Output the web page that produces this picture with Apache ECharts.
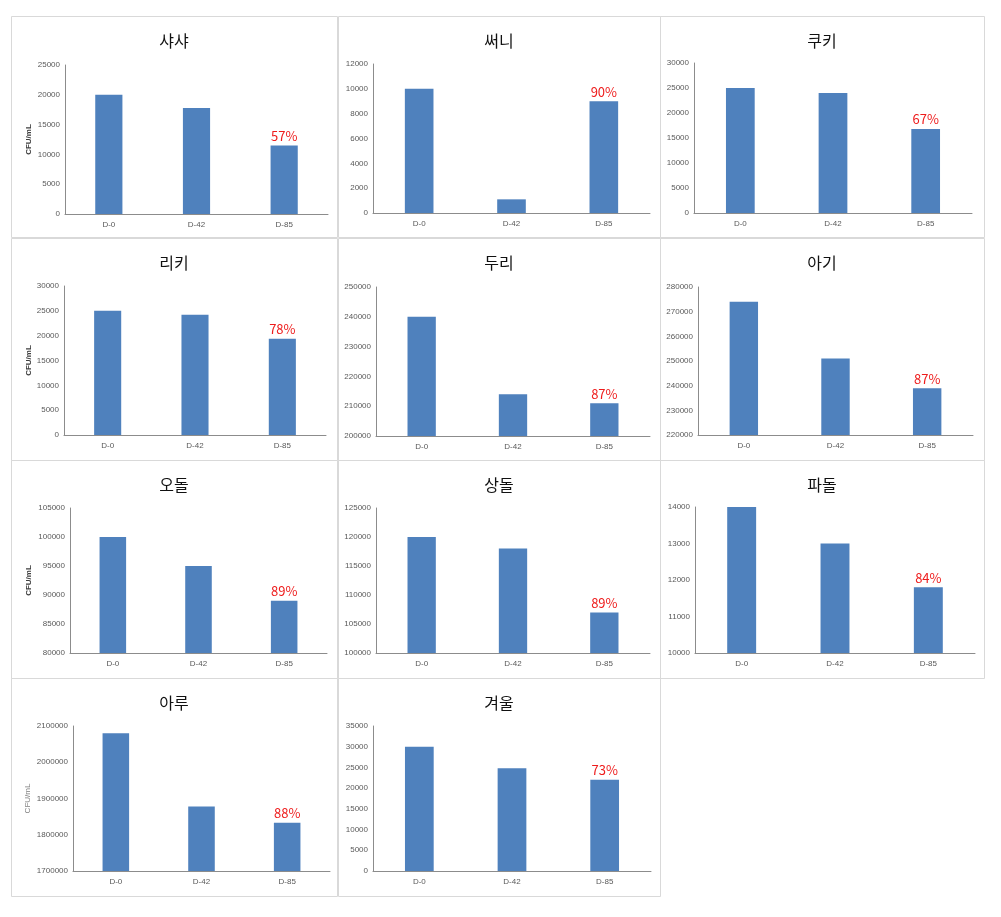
<!DOCTYPE html>
<html>
<head>
<meta charset="utf-8">
<script src="https://cdn.jsdelivr.net/npm/echarts@6/dist/echarts.min.js"></script>
<style>
html,body{margin:0;padding:0;background:#fff;}
#chart{width:1001px;height:917px;}
</style>
</head>
<body>
<div id="chart"></div>
<script>
// ---- data ----
const titles = ['샤샤','써니','쿠키','리키','두리','아기','오돌','상돌','파돌','아루','겨울'];
const categories = ['D-0','D-42','D-85'];
const shasha  = [20000, 17800, 11500];
const sunny   = [10000, 1100, 9000];
const cookie  = [25000, 24000, 16800];
const ricky   = [25000, 24200, 19400];
const duri    = [240000, 214000, 211000];
const agi     = [274000, 251000, 239000];
const odol    = [100000, 95000, 89000];
const sangdol = [120000, 118000, 107000];
const padol   = [14000, 13000, 11800];
const aru     = [2080000, 1878000, 1833000];
const gyeoul  = [30000, 24800, 22000];
const percentLabels = ['57%','90%','67%','78%','87%','87%','89%','89%','84%','88%','73%'];
const yMin      = [0, 0, 0, 0, 200000, 220000, 80000, 100000, 10000, 1700000, 0];
const yMax      = [25000, 12000, 30000, 30000, 250000, 280000, 105000, 125000, 14000, 2100000, 35000];
const yInterval = [5000, 2000, 5000, 5000, 10000, 10000, 5000, 5000, 1000, 100000, 5000];
const yName     = ['CFU/mL','','','CFU/mL','','','CFU/mL','','','CFU/mL',''];
const seriesData = [shasha, sunny, cookie, ricky, duri, agi, odol, sangdol, padol, aru, gyeoul];

// ---- layout ----
const colX = [11, 338, 660], colW = [326, 322, 324];
const rowY = [16, 238, 460, 678], rowH = [221, 222, 218, 218];
const grids = [
  [65, 65, 263, 149], [373, 64, 277, 149], [694, 63, 278, 150],
  [64, 286, 262, 149], [376, 287, 274, 149], [698, 287, 275, 148],
  [70, 508, 257, 145], [376, 508, 274, 145], [695, 507, 280, 146],
  [73, 726, 257, 145], [373, 726, 278, 145]
];
const nameGaps = [32, 0, 0, 31, 0, 0, 37, 0, 0, 41, 0];

const chart = echarts.init(document.getElementById('chart'));
const option = {
  animation: false,
  backgroundColor: '#fff',
  title: [], grid: [], xAxis: [], yAxis: [], series: [],
  graphic: []
};
for (let i = 0; i < titles.length; i++) {
  const c = i % 3, r = Math.floor(i / 3);
  option.graphic.push({
    type: 'rect', silent: true,
    shape: {x: colX[c] + 0.5, y: rowY[r] + 0.5, width: colW[c], height: rowH[r]},
    style: {fill: 'none', stroke: '#d9d9d9', lineWidth: 1}
  });
  option.title.push({
    text: titles[i],
    left: colX[c] + colW[c] / 2,
    top: rowY[r] + 16,
    textAlign: 'center',
    padding: 0,
    textStyle: {fontFamily: 'Noto Sans CJK KR', fontSize: 16, fontWeight: 'normal', color: '#111', lineHeight: 17}
  });
  const g = grids[i];
  option.grid.push({left: g[0], top: g[1], width: g[2], height: g[3], containLabel: false});
  option.xAxis.push({
    type: 'category', gridIndex: i, data: categories,
    axisLine: {lineStyle: {color: '#8c8c8c', width: 1}},
    axisTick: {show: false},
    axisLabel: {fontSize: 8, color: '#595959', fontFamily: 'Liberation Sans', margin: 7}
  });
  option.yAxis.push({
    type: 'value', gridIndex: i,
    min: yMin[i], max: yMax[i], interval: yInterval[i],
    name: yName[i], nameLocation: 'middle', nameGap: nameGaps[i],
    nameTextStyle: {fontSize: 8, fontFamily: 'Liberation Sans',
      color: i === 9 ? '#808080' : '#404040', fontWeight: i === 9 ? 'normal' : 'bold'},
    axisLine: {show: true, lineStyle: {color: '#8c8c8c', width: 1}},
    axisTick: {show: false},
    splitLine: {show: false},
    axisLabel: {fontSize: 8, color: '#595959', fontFamily: 'Liberation Sans', margin: 5,
      formatter: function (v) { return String(v); }}
  });
  option.series.push({
    type: 'bar', xAxisIndex: i, yAxisIndex: i,
    data: seriesData[i].map((v, k) => k === 2 ? {
      value: v,
      label: {show: true, position: 'top', distance: 3, formatter: percentLabels[i],
        fontSize: 13, color: '#ee1c1c', fontFamily: 'Noto Sans CJK KR'}
    } : v),
    barWidth: '31%',
    itemStyle: {color: '#4f81bd'}
  });
}
chart.setOption(option);
</script>
</body>
</html>
